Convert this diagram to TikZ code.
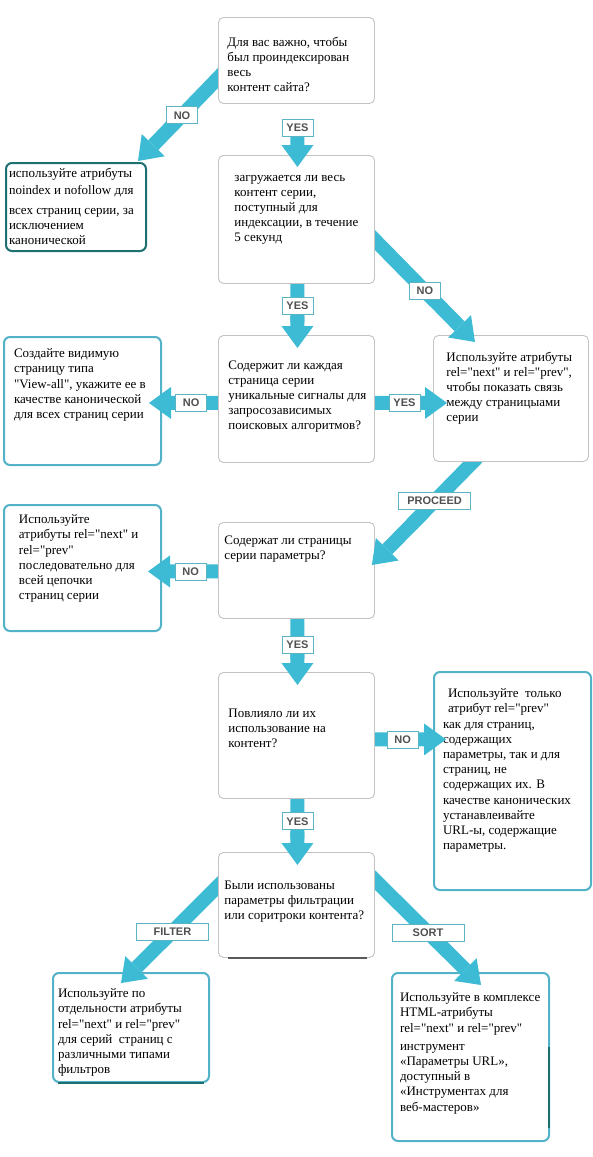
\documentclass[tikz,border=0pt]{standalone}
\usepackage{fontspec}
\setmainfont{Liberation Serif}[Ligatures=TeXOff]
\newfontfamily\labelfont{Liberation Sans}
\usetikzlibrary{arrows.meta,calc}
\pgfdeclarelayer{bg}
\pgfsetlayers{bg,main}

\definecolor{flowcyan}{RGB}{62,187,212}
\definecolor{lblcyan}{RGB}{90,180,196}
\definecolor{lblgray}{RGB}{80,80,80}
\definecolor{qgray}{RGB}{195,195,195}
\definecolor{acyan}{RGB}{82,178,200}
\definecolor{ateal}{RGB}{30,112,112}

% ширина, высота, отступ слева, отступ сверху, строки
\newcommand{\boxtext}[5]{\parbox[t][#2pt][t]{#1pt}{\vspace*{#4pt}\hspace*{#3pt}\begin{tabular}[t]{@{}l@{}}#5\end{tabular}}}

\tikzset{
  fbox/.style={anchor=north west, inner sep=0pt, rounded corners=5pt, fill=white,
    font=\fontsize{13}{15.2}\selectfont},
  qbox/.style={fbox, draw=qgray, line width=0.9pt},
  abox/.style={fbox, draw=acyan, line width=2pt, rounded corners=6pt},
  darkbox/.style={fbox, draw=ateal, line width=2pt, rounded corners=6pt},
  shaft/.style={draw=flowcyan, line width=14pt},
  flowarrow/.style={draw=flowcyan, line width=14pt,
    -{Triangle[width=32pt,length=22pt,line width=0pt]}},
  lbl/.style={draw=lblcyan, fill=white, line width=0.8pt, text=lblgray,
    font=\labelfont\bfseries\fontsize{11}{11}\selectfont,
    inner xsep=3pt, inner ysep=0pt, minimum height=17pt, minimum width=31pt},
  widelbl/.style={lbl, minimum width=72pt}
}

\begin{document}
\begin{tikzpicture}[x=1pt,y=-1pt]
  \useasboundingbox (0,0) rectangle (593,1157);
  \begin{pgfonlayer}{bg}
    \fill[white] (0,0) rectangle (593,1157);
  \end{pgfonlayer}

  % Вопросы (центральная колонка)
  \node[qbox] (q1) at (218,17) {\boxtext{156}{86}{9}{18}{Для вас важно, чтобы\\ был проиндексирован\\ весь\\ контент сайта?}};
  \node[qbox] (q2) at (218,155) {\boxtext{156}{128}{16}{15}{загружается ли весь\\ контент серии,\\ поступный для\\ индексации, в течение\\ 5 секунд}};
  \node[qbox] (q3) at (218,335) {\boxtext{156}{127}{10}{23}{Содержит ли каждая\\ страница серии\\ уникальные сигналы для\\ запросозависимых\\ поисковых алгоритмов?}};
  \node[qbox] (q4) at (218,522) {\boxtext{156}{96}{6}{11}{Содержат ли страницы\\ серии параметры?}};
  \node[qbox] (q5) at (218,672) {\boxtext{156}{126}{10}{34}{Повлияло ли их\\ использование на\\ контент?}};
  \node[qbox] (q6) at (218,852) {\boxtext{156}{105}{6}{26}{Были использованы\\ параметры фильтрации\\ или соритроки контента?}};

  % Ответы
  \node[darkbox] (a1) at (5,162) {\boxtext{140}{88}{3}{4}{используйте атрибуты\\[2pt] noindex и nofollow для\\[4pt] всех страниц серии, за\\ исключением\\ канонической}};
  \node[abox] (a3) at (3,336) {\boxtext{157}{128}{10}{10}{Создайте видимую\\ страницу типа\\ "View-all", укажите ее в\\ качестве канонической\\ для всех страниц серии}};
  \node[qbox] (r3) at (433,335) {\boxtext{155}{126}{13}{15}{Используйте атрибуты\\ rel="next" и rel="prev",\\ чтобы показать связь\\ между страницыами\\ серии}};
  \node[abox] (a4) at (3,504) {\boxtext{157}{126}{15}{8}{Используйте\\ атрибуты rel="next" и\\ rel="prev"\\ последовательно для\\ всей цепочки\\ страниц серии}};
  \node[abox] (r5) at (433,671) {\boxtext{157}{218}{9}{15}{\hspace{5pt}Используйте\ \ только\\ \hspace{5pt}атрибут rel="prev"\\ как для страниц,\\ содержащих\\ параметры, так и для\\ страниц, не\\ содержащих их. В\\ качестве канонических\\ устанавлеивайте\\ URL-ы, содержащие\\ параметры.}};
  \node[abox] (b1) at (52,972) {\boxtext{156}{109}{5}{14}{Используйте по\\ отдельности атрибуты\\ rel="next" и rel="prev"\\ для серий\ \ страниц с\\ различными типами\\ фильтров}};
  \node[abox] (b2) at (391,972) {\boxtext{157}{168}{8}{18}{Используйте в комплексе\\ HTML-атрибуты\\ rel="next" и rel="prev"\\[3pt] инструмент\\ «Параметры URL»,\\ доступный в\\ «Инструментах для\\ веб-мастеров»}};

  % Тёмные края
  \draw[gray!70!black, line width=1.6pt] ($(q6.south west)+(10,0)$) -- ($(q6.south east)+(-8,0)$);
  \draw[ateal, line width=1.6pt] ($(b1.south west)+(6,0)$) -- ($(b1.south east)+(-6,0)$);
  \draw[ateal, line width=1.4pt] ($(b2.north east)+(-1,75)$) -- ($(b2.north east)+(-1,156)$);

  % Концы стрелок
  \coordinate (e1) at ($(q1.north west)+(0,61)$);
  \coordinate (t1) at ($(a1.north east)+(-9,-1)$);
  \coordinate (e2) at ($(q1.south)+(1,27)$);
  \coordinate (t2) at ($(q2.north)+(1,12)$);
  \coordinate (e3) at ($(q2.south)+(1,0)$);
  \coordinate (t3) at ($(q3.north)+(1,13)$);
  \coordinate (e4) at ($(q2.north east)+(0,85)$);
  \coordinate (t4) at ($(r3.north west)+(42,7)$);
  \coordinate (e5) at ($(q3.west)+(0,4)$);
  \coordinate (t5) at ($(e5 -| a3.east)+(-13,0)$);
  \coordinate (e6) at ($(q3.east)+(0,4)$);
  \coordinate (t6) at ($(e6 -| r3.west)+(14,0)$);
  \coordinate (e7) at ($(r3.south west)+(40,0)$);
  \coordinate (t7) at ($(q4.north east)+(-3,43)$);
  \coordinate (e8) at ($(q4.west)+(0,1)$);
  \coordinate (t8) at ($(e8 -| a4.east)+(-14,0)$);
  \coordinate (e9) at ($(q4.south)+(1,0)$);
  \coordinate (t9) at ($(q5.north)+(1,13)$);
  \coordinate (e10) at ($(q5.east)+(0,4)$);
  \coordinate (t10) at ($(e10 -| r5.west)+(13,0)$);
  \coordinate (e11) at ($(q5.south)+(1,0)$);
  \coordinate (t11) at ($(q6.north)+(1,13)$);
  \coordinate (e12) at ($(q6.north west)+(0,34)$);
  \coordinate (t12) at ($(b1.north west)+(69,11)$);
  \coordinate (e13) at ($(q6.north east)+(0,28)$);
  \coordinate (t13) at ($(b2.north west)+(90,13)$);

  % Стрелки: хвосты под блоками
  \begin{pgfonlayer}{bg}
    \draw[shaft] ($(e1)!-10pt!(t1)$) -- ($(e1)!0.6!(t1)$);
    \draw[shaft] ($(e2)!-10pt!(t2)$) -- ($(e2)!0.6!(t2)$);
    \draw[shaft] ($(e3)!-10pt!(t3)$) -- ($(e3)!0.6!(t3)$);
    \draw[shaft] ($(e4)!-10pt!(t4)$) -- ($(e4)!0.6!(t4)$);
    \draw[shaft] ($(e5)!-10pt!(t5)$) -- ($(e5)!0.6!(t5)$);
    \draw[shaft] ($(e6)!-10pt!(t6)$) -- ($(e6)!0.6!(t6)$);
    \draw[shaft] ($(e7)!-10pt!(t7)$) -- ($(e7)!0.6!(t7)$);
    \draw[shaft] ($(e8)!-10pt!(t8)$) -- ($(e8)!0.6!(t8)$);
    \draw[shaft] ($(e9)!-10pt!(t9)$) -- ($(e9)!0.6!(t9)$);
    \draw[shaft] ($(e10)!-10pt!(t10)$) -- ($(e10)!0.6!(t10)$);
    \draw[shaft] ($(e11)!-10pt!(t11)$) -- ($(e11)!0.6!(t11)$);
    \draw[shaft] ($(e12)!-10pt!(t12)$) -- ($(e12)!0.6!(t12)$);
    \draw[shaft] ($(e13)!-10pt!(t13)$) -- ($(e13)!0.6!(t13)$);
  \end{pgfonlayer}

  % Стрелки: наконечники поверх блоков
  \draw[flowarrow] ($(e1)!0.5!(t1)$) -- (t1);
  \draw[flowarrow] ($(e2)!0.5!(t2)$) -- (t2);
  \draw[flowarrow] ($(e3)!0.5!(t3)$) -- (t3);
  \draw[flowarrow] ($(e4)!0.5!(t4)$) -- (t4);
  \draw[flowarrow] ($(e5)!0.5!(t5)$) -- (t5);
  \draw[flowarrow] ($(e6)!0.5!(t6)$) -- (t6);
  \draw[flowarrow] ($(e7)!0.5!(t7)$) -- (t7);
  \draw[flowarrow] ($(e8)!0.5!(t8)$) -- (t8);
  \draw[flowarrow] ($(e9)!0.5!(t9)$) -- (t9);
  \draw[flowarrow] ($(e10)!0.5!(t10)$) -- (t10);
  \draw[flowarrow] ($(e11)!0.5!(t11)$) -- (t11);
  \draw[flowarrow] ($(e12)!0.5!(t12)$) -- (t12);
  \draw[flowarrow] ($(e13)!0.5!(t13)$) -- (t13);

  % Подписи на стрелках
  \node[lbl] (no1) at ($(e1)!0.45!(t1)$) {NO};
  \node[lbl] (yes2) at ($(e2)!-0.08!(t2)$) {YES};
  \node[lbl] (yes3) at ($(e3)!0.34!(t3)$) {YES};
  \node[lbl] (no4) at ($(e4)!0.5!(t4)$) {NO};
  \node[lbl] (no5) at ($(e5)!0.39!(t5)$) {NO};
  \node[lbl] (yes6) at ($(e6)!0.41!(t6)$) {YES};
  \node[widelbl] (proceed7) at ($(e7)!0.38!(t7)$) {PROCEED};
  \node[lbl] (no8) at ($(e8)!0.39!(t8)$) {NO};
  \node[lbl] (yes9) at ($(e9)!0.39!(t9)$) {YES};
  \node[lbl] (no10) at ($(e10)!0.39!(t10)$) {NO};
  \node[lbl] (yes11) at ($(e11)!0.34!(t11)$) {YES};
  \node[widelbl] (filter12) at ($(e12)!0.47!(t12)$) {FILTER};
  \node[widelbl] (sort13) at ($(e13)!0.5!(t13)$) {SORT};
\end{tikzpicture}
\end{document}
